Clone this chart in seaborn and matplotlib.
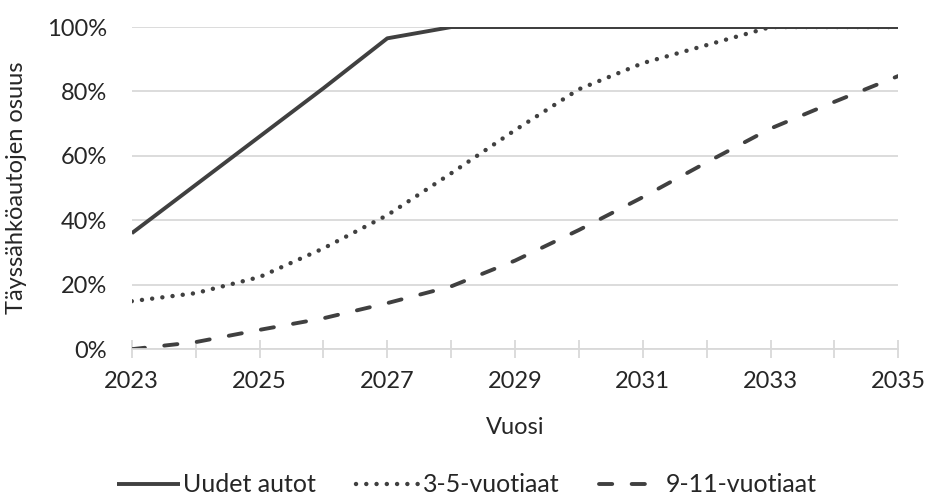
import pandas as pd
import matplotlib
matplotlib.use("Agg")
import matplotlib.pyplot as plt
import seaborn as sns
from matplotlib.ticker import PercentFormatter

# Data
years = list(range(2023, 2036))
uudet = [36, 51, 66, 81, 96.5, 100, 100, 100, 100, 100, 100, 100, 100]
vuotiaat_3_5 = [14.9, 17.4, 22.4, 31.3, 41.6, 54.6, 68, 80.7, 88.8, 94.4, 100, 100, 100]
vuotiaat_9_11 = [0, 2.2, 6.0, 9.6, 14.3, 19.5, 27.5, 37, 47.2, 58, 68.5, 76.8, 84.8]
series_names = ["Uudet autot", "3-5-vuotiaat", "9-11-vuotiaat"]

line_color = "#404040"
grid_color = "#d9d9d9"
fs = 17

sns.set_theme(style="white")
plt.rcParams["font.family"] = ["Lato", "DejaVu Sans"]

df = pd.DataFrame({
    "Vuosi": years * 3,
    "osuus": uudet + vuotiaat_3_5 + vuotiaat_9_11,
    "sarja": [series_names[0]] * len(years) + [series_names[1]] * len(years) + [series_names[2]] * len(years),
})

fig = plt.figure(figsize=(9.28, 5.01), dpi=100)
ax = fig.add_axes([0.142, 0.303, 0.826, 0.643])

styles = {
    "Uudet autot": dict(linestyle="-", solid_capstyle="butt", linewidth=2.8),
    "3-5-vuotiaat": dict(linestyle=(0, (0.01, 2.3)), dash_capstyle="round", linewidth=3.2),
    "9-11-vuotiaat": dict(linestyle=(0, (3.4, 5.0)), dash_capstyle="round", linewidth=2.8),
}

# draw in reverse so the solid line sits on top
for name in series_names[::-1]:
    sub = df[df["sarja"] == name]
    sns.lineplot(data=sub, x="Vuosi", y="osuus", ax=ax, color=line_color,
                 label=name, **styles[name])

ax.set_xlim(2023, 2035)
ax.set_ylim(0, 100)
ax.set_yticks(range(0, 101, 20))
ax.yaxis.set_major_formatter(PercentFormatter(decimals=0))
ax.set_xticks(range(2023, 2036, 2))
ax.set_xticks(range(2023, 2036), minor=True)
ax.grid(axis="y", color=grid_color, linewidth=1.3)
ax.set_axisbelow(True)

for side in ["left", "right", "top"]:
    ax.spines[side].set_visible(False)
ax.spines["bottom"].set_color(grid_color)
ax.spines["bottom"].set_linewidth(1.3)

ax.tick_params(axis="x", which="both", direction="inout", length=13, width=1.3,
               color=grid_color, labelsize=fs, pad=9, bottom=True)
ax.tick_params(axis="y", length=0, labelsize=fs, pad=18)

ax.set_xlabel("Vuosi", fontsize=fs, labelpad=18)
ax.set_ylabel("Täyssähköautojen osuus", fontsize=fs, labelpad=14)

handles, labels = ax.get_legend_handles_labels()
order = [labels.index(n) for n in series_names]
ax.legend([handles[i] for i in order], [labels[i] for i in order],
          loc="center", bbox_to_anchor=(0.503, 0.032), bbox_transform=fig.transFigure,
          ncol=3, frameon=False, fontsize=18, handlelength=2.5, handletextpad=0.15,
          columnspacing=1.6, borderpad=0.2)

fig.savefig("out.png", dpi=100)
